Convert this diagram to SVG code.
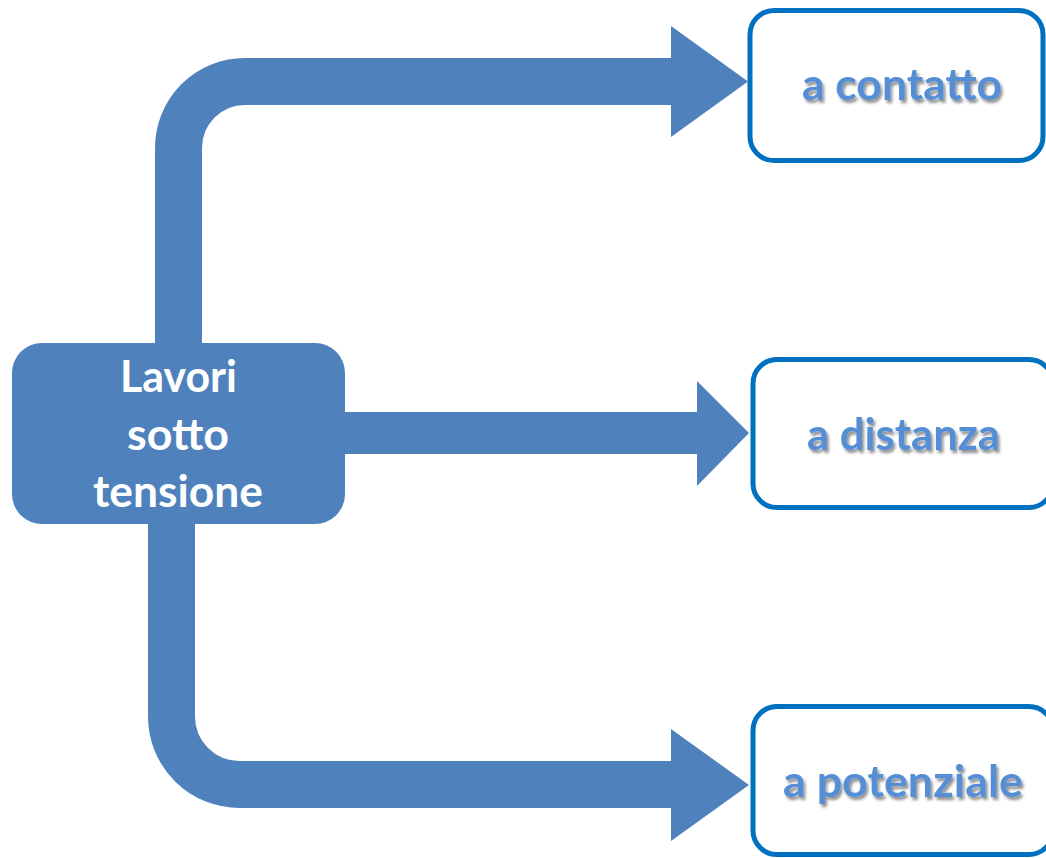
<svg xmlns="http://www.w3.org/2000/svg" width="1046" height="858" viewBox="0 0 1046 858">
<defs>
<filter id="shadow" x="-10%" y="-30%" width="120%" height="160%">
<feGaussianBlur in="SourceAlpha" stdDeviation="1.5"/>
<feOffset dx="2" dy="2.5" result="b"/>
<feComponentTransfer><feFuncA type="linear" slope="0.45"/></feComponentTransfer>
<feMerge><feMergeNode/><feMergeNode in="SourceGraphic"/></feMerge>
</filter>
</defs>
<style>
.shaft{fill:none;stroke:#4F81BD;stroke-width:47;stroke-linecap:butt;stroke-linejoin:round}
.head{fill:#4F81BD}
.box{fill:#FFFFFF;stroke:#0070C0;stroke-width:5}
.lbl{font-family:Lato,"Open Sans","Liberation Sans",sans-serif;font-weight:bold;font-size:44px;fill:#558ED5;text-anchor:middle;filter:url(#shadow)}
.main{font-family:Lato,"Open Sans","Liberation Sans",sans-serif;font-weight:bold;font-size:44px;fill:#FFFFFF;text-anchor:middle}
</style>
<rect width="1046" height="858" fill="#FFFFFF"/>
<g id="connectors">
<path class="shaft" d="M178.5,345 V148 A66.5,66.5 0 0 1 245,81.5 H672"/>
<polygon class="head" points="671,26 748,81.5 671,137"/>
<rect x="343" y="412" width="355" height="42" fill="#4F81BD"/>
<polygon class="head" points="697,381 749,433 697,486"/>
<path class="shaft" d="M171.5,522 V716.5 A68,68 0 0 0 239.5,784.5 H672"/>
<polygon class="head" points="671,729 749,785 671,841"/>
</g>
<g id="node-lavori">
<rect x="12" y="343" width="333" height="181" rx="30" fill="#4F81BD"/>
<text class="main" x="178.5" y="392" textLength="117" lengthAdjust="spacingAndGlyphs">Lavori</text>
<text class="main" x="178" y="450" textLength="102" lengthAdjust="spacingAndGlyphs">sotto</text>
<text class="main" x="178" y="507" textLength="170" lengthAdjust="spacingAndGlyphs">tensione</text>
</g>
<g id="node-contatto">
<rect class="box" x="750" y="10.5" width="293" height="150" rx="24"/>
<text class="lbl" x="902" y="100" textLength="200" lengthAdjust="spacingAndGlyphs">a contatto</text>
</g>
<g id="node-distanza">
<rect class="box" x="753" y="359.5" width="300" height="148" rx="24"/>
<text class="lbl" x="903.5" y="450" textLength="193" lengthAdjust="spacingAndGlyphs">a distanza</text>
</g>
<g id="node-potenziale">
<rect class="box" x="753" y="706.5" width="300" height="148" rx="24"/>
<text class="lbl" x="903" y="797" textLength="240" lengthAdjust="spacingAndGlyphs">a potenziale</text>
</g>
</svg>
